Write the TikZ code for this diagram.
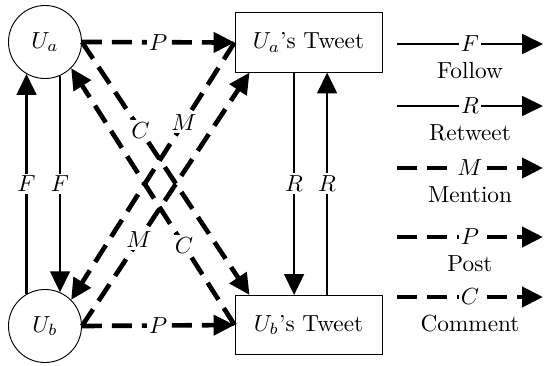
\documentclass[tikz,border=0pt]{standalone}
\usetikzlibrary{arrows.meta,calc}
\begin{document}
\begin{tikzpicture}[x=0.43pt,y=-0.43pt,
  user/.style={circle,draw,line width=0.4pt,minimum size=31.4pt,inner sep=0pt},
  tweet/.style={rectangle,draw,line width=0.4pt,minimum width=63.2pt,minimum height=25.4pt,inner sep=0pt},
  solidlink/.style={line width=1pt,-{Triangle[length=9pt,width=8.5pt]}},
  dashlink/.style={line width=2pt,dash pattern=on 8.6pt off 4.3pt,-{Triangle[length=9pt,width=8.5pt]}},
  tag/.style={fill=white,inner sep=1pt},
  legendtext/.style={yshift=-11.6pt},
]
\useasboundingbox (0,0) rectangle (544,365);

% users and their tweets
\node[user] (Ua) at (45,42) {$U_a$};
\node[user] (Ub) at (45,326) {$U_b$};
\node[tweet] (UaT) at (308.5,42.5) {$U_a$'s Tweet};
\node[tweet] (UbT) at (308.5,325) {$U_b$'s Tweet};

% follow relations
\draw[solidlink] (Ub.120) -- node[tag]{$F$} (Ua.240);
\draw[solidlink] (Ua.294) -- node[tag]{$F$} (Ub.66);

% retweet relations
\draw[solidlink] ([xshift=-6.2pt]UaT.south) -- node[tag]{$R$} ([xshift=-6.2pt]UbT.north);
\draw[solidlink] ([xshift=8pt]UbT.north) -- node[tag]{$R$} ([xshift=8pt]UaT.south);

% posts
\draw[dashlink] (Ua.east) -- node[tag]{$P$} (UaT.west);
\draw[dashlink] (Ub.east) -- node[tag]{$P$} (UbT.west);

% comments
\draw[dashlink] (Ua.east) -- node[tag,pos=0.35]{$C$} ([xshift=6.45pt]UbT.north west);
\draw[dashlink] (UbT.west) -- node[tag,pos=0.31]{$C$} (Ua.south east);

% mentions
\draw[dashlink] (Ub.east) -- node[tag,pos=0.34]{$M$} ([xshift=6.45pt]UaT.south west);
\draw[dashlink] (UaT.west) -- node[tag,pos=0.31]{$M$} (Ub.north east);

% legend
\coordinate (f0) at (397,44);  \coordinate (f1) at (543,44);
\coordinate (r0) at (397,106); \coordinate (r1) at (543,106);
\coordinate (m0) at (397,168); \coordinate (m1) at (543,168);
\coordinate (p0) at (397,237); \coordinate (p1) at (543,237);
\coordinate (c0) at (397,297); \coordinate (c1) at (543,297);
\draw[solidlink] (f0) -- node[tag]{$F$} node[legendtext]{Follow} (f1);
\draw[solidlink] (r0) -- node[tag]{$R$} node[legendtext]{Retweet} (r1);
\draw[dashlink] (m0) -- node[tag]{$M$} node[legendtext]{Mention} (m1);
\draw[dashlink] (p0) -- node[tag]{$P$} node[legendtext]{Post} (p1);
\draw[dashlink] (c0) -- node[tag]{$C$} node[legendtext]{Comment} (c1);
\end{tikzpicture}
\end{document}
